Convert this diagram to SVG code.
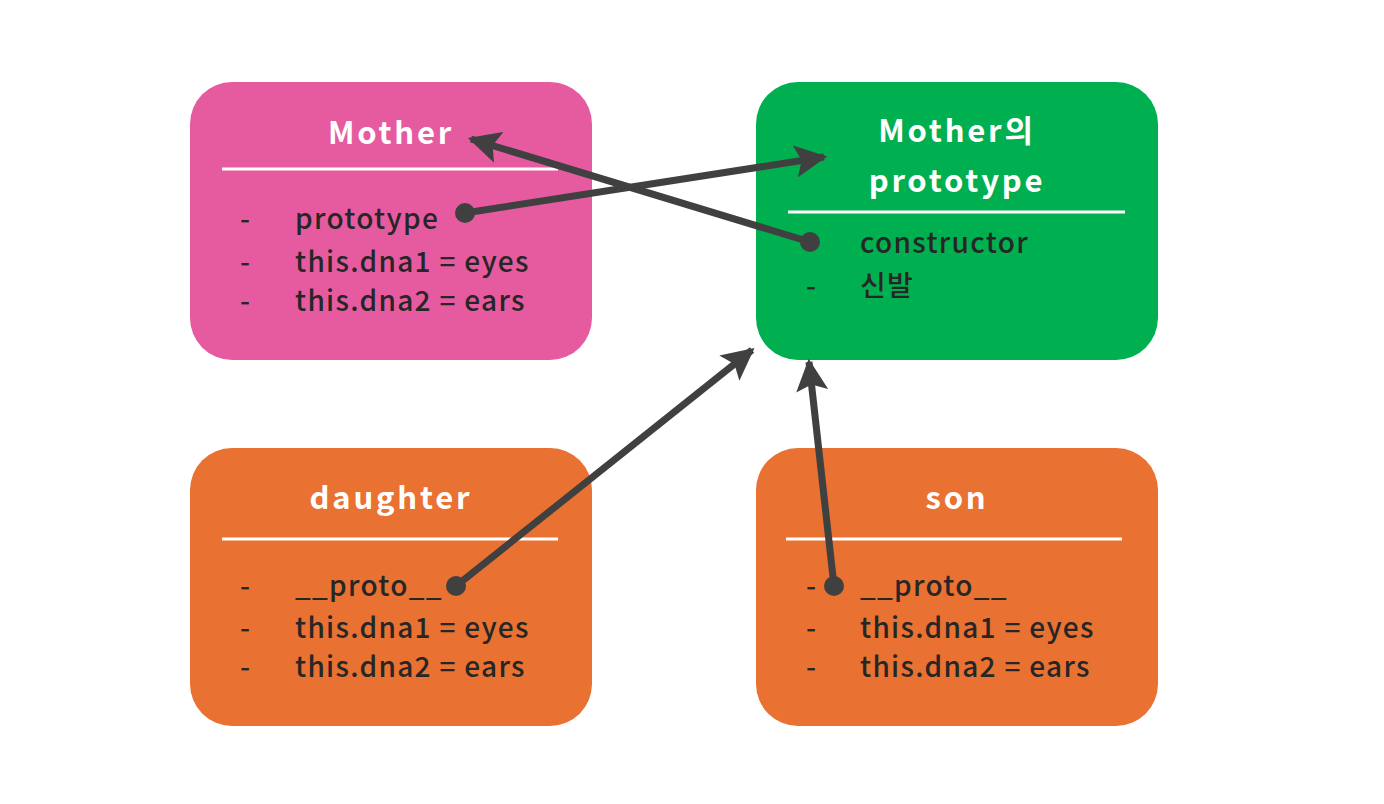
<svg xmlns="http://www.w3.org/2000/svg" width="1384" height="804" viewBox="0 0 1384 804">
<style>
.title{font-family:"Noto Sans CJK KR","Noto Sans",sans-serif;font-weight:700;font-size:31px;letter-spacing:2.8px;fill:#ffffff;text-anchor:middle}
.item{font-family:"Noto Sans CJK KR","Noto Sans",sans-serif;font-weight:500;font-size:28px;letter-spacing:1.3px;fill:#262626}
.sep{stroke:#ffffff;stroke-width:3}
.conn{stroke:#404040;stroke-width:7;fill:none;marker-end:url(#ah)}
.dot{fill:#404040}
</style>
<defs>
<marker id="ah" viewBox="0 0 10 10" refX="9" refY="5" markerWidth="4.6" markerHeight="4.6" orient="auto" markerUnits="strokeWidth">
<path d="M0,0 L10,5 L0,10 L2,5 Z" fill="#404040"/>
</marker>
</defs>
<rect width="1384" height="804" fill="#ffffff"/>
<g id="mother">
<rect x="190" y="82" width="402" height="278" rx="42" fill="#E65BA0"/>
<text class="title" x="391" y="144">Mother</text>
<line class="sep" x1="222" y1="169" x2="558" y2="169"/>
<text class="item" x="240" y="229">-</text><text class="item" x="295" y="229">prototype</text>
<text class="item" x="240" y="272">-</text><text class="item" x="295" y="272">this.dna1 = eyes</text>
<text class="item" x="240" y="311">-</text><text class="item" x="295" y="311">this.dna2 = ears</text>
</g>
<g id="mother-prototype">
<rect x="756" y="82" width="402" height="278" rx="42" fill="#00B050"/>
<text class="title" x="957" y="142">Mother의</text>
<text class="title" x="957" y="192">prototype</text>
<line class="sep" x1="788" y1="212" x2="1125" y2="212"/>
<text class="item" x="860" y="253">constructor</text>
<text class="item" x="806" y="296">-</text><text class="item" x="860" y="296">신발</text>
</g>
<g id="daughter">
<rect x="190" y="448" width="402" height="278" rx="42" fill="#E97132"/>
<text class="title" x="391" y="509">daughter</text>
<line class="sep" x1="222" y1="539" x2="558" y2="539"/>
<text class="item" x="240" y="596">-</text><text class="item" x="295" y="596">__proto__</text>
<text class="item" x="240" y="638">-</text><text class="item" x="295" y="638">this.dna1 = eyes</text>
<text class="item" x="240" y="677">-</text><text class="item" x="295" y="677">this.dna2 = ears</text>
</g>
<g id="son">
<rect x="756" y="448" width="402" height="278" rx="42" fill="#E97132"/>
<text class="title" x="957" y="509">son</text>
<line class="sep" x1="786" y1="539" x2="1122" y2="539"/>
<text class="item" x="806" y="596">-</text><text class="item" x="860" y="596">__proto__</text>
<text class="item" x="806" y="638">-</text><text class="item" x="860" y="638">this.dna1 = eyes</text>
<text class="item" x="806" y="677">-</text><text class="item" x="860" y="677">this.dna2 = ears</text>
</g>
<g id="connectors">
<circle class="dot" cx="465" cy="213" r="10"/>
<line class="conn" x1="465" y1="213" x2="824" y2="157"/>
<circle class="dot" cx="810" cy="242" r="10"/>
<line class="conn" x1="810" y1="242" x2="471" y2="139"/>
<circle class="dot" cx="456" cy="586" r="10"/>
<line class="conn" x1="456" y1="586" x2="752" y2="350"/>
<circle class="dot" cx="834" cy="586" r="10"/>
<line class="conn" x1="834" y1="586" x2="809" y2="362"/>
</g>
</svg>
